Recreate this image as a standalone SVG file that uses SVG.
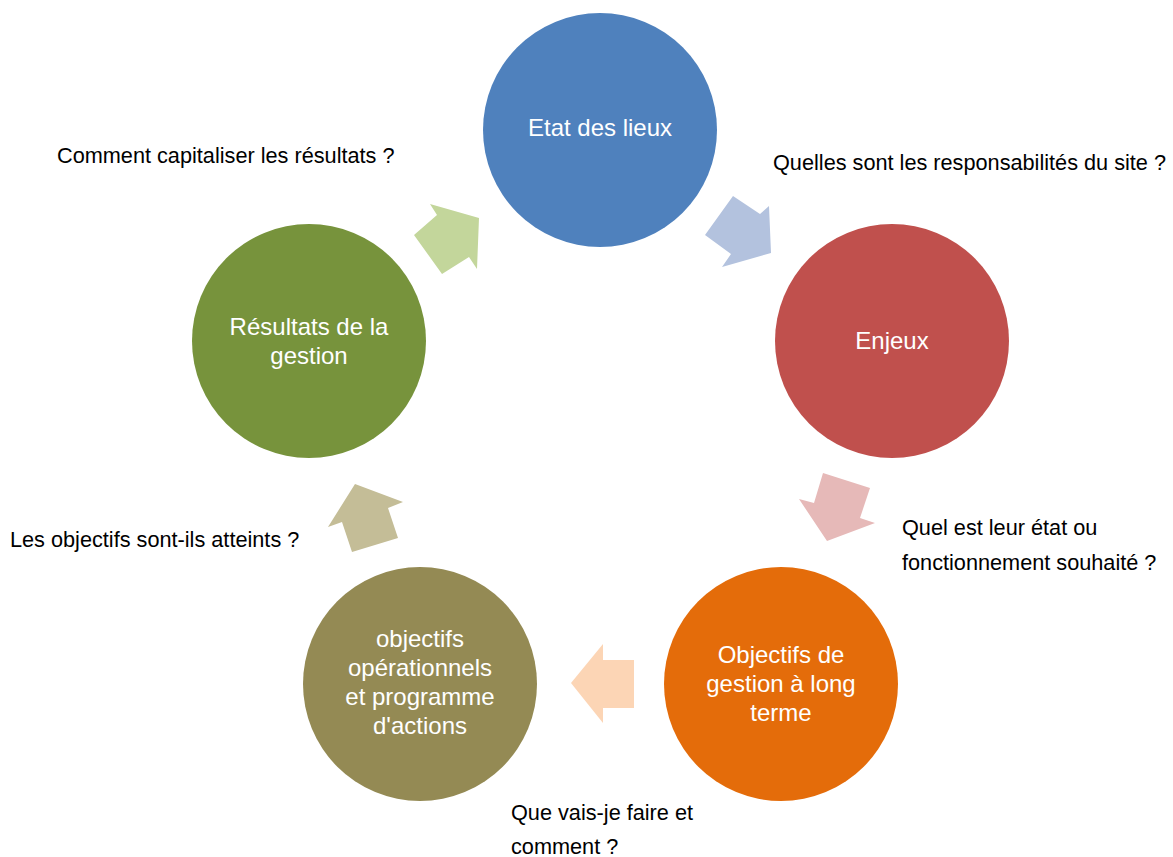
<svg xmlns="http://www.w3.org/2000/svg" width="1173" height="857" viewBox="0 0 1173 857">
<style>
.ct{font-family:"Liberation Sans",Arial,sans-serif;font-size:24px;fill:#fff;text-anchor:middle}
.lb{font-family:"Liberation Sans",Arial,sans-serif;font-size:21.7px;fill:#000}
</style>
<rect width="1173" height="857" fill="#fff"/>
<g id="connectors">
<polygon points="430,204 437,215 414,235 442,274 469,257 477,269 479,218" fill="#C3D69B"/>
<polygon points="733,196 705,235 731,254 722,267 771,253 769,206 760,214" fill="#B3C2DE"/>
<polygon points="823,473 870,488 860,518 875,523 827,541 799,499 814,503" fill="#E6B9B8"/>
<polygon points="603,644 571,683 603,723 603,708 634,708 634,660 603,660" fill="#FCD5B5"/>
<polygon points="355,484 328,527 342,522 352,552 398,538 388,508 403,502" fill="#C4BD97"/>
</g>
<g id="n1">
<circle cx="600" cy="130" r="117" fill="#4F81BD"/>
<text class="ct" x="600" y="136">Etat des lieux</text>
</g>
<g id="n2">
<circle cx="892" cy="341" r="117" fill="#C0504D"/>
<text class="ct" x="892" y="349">Enjeux</text>
</g>
<g id="n3">
<circle cx="781" cy="684" r="117" fill="#E46C0A"/>
<text class="ct" x="781" y="663">Objectifs de</text>
<text class="ct" x="781" y="692">gestion à long</text>
<text class="ct" x="781" y="721">terme</text>
</g>
<g id="n4">
<circle cx="420" cy="684" r="117" fill="#948A54"/>
<text class="ct" x="420" y="647">objectifs</text>
<text class="ct" x="420" y="676">opérationnels</text>
<text class="ct" x="420" y="705">et programme</text>
<text class="ct" x="420" y="734">d'actions</text>
</g>
<g id="n5">
<circle cx="309" cy="341" r="117" fill="#77933C"/>
<text class="ct" x="309" y="335">Résultats de la</text>
<text class="ct" x="309" y="364">gestion</text>
</g>
<g id="labels">
<text class="lb" x="57" y="163">Comment capitaliser les résultats ?</text>
<text class="lb" x="773" y="170">Quelles sont les responsabilités du site ?</text>
<text class="lb" x="902" y="535">Quel est leur état ou</text>
<text class="lb" x="902" y="570">fonctionnement souhaité ?</text>
<text class="lb" x="10" y="547">Les objectifs sont-ils atteints ?</text>
<text class="lb" x="511" y="820">Que vais-je faire et</text>
<text class="lb" x="511" y="854">comment ?</text>
</g>
</svg>
